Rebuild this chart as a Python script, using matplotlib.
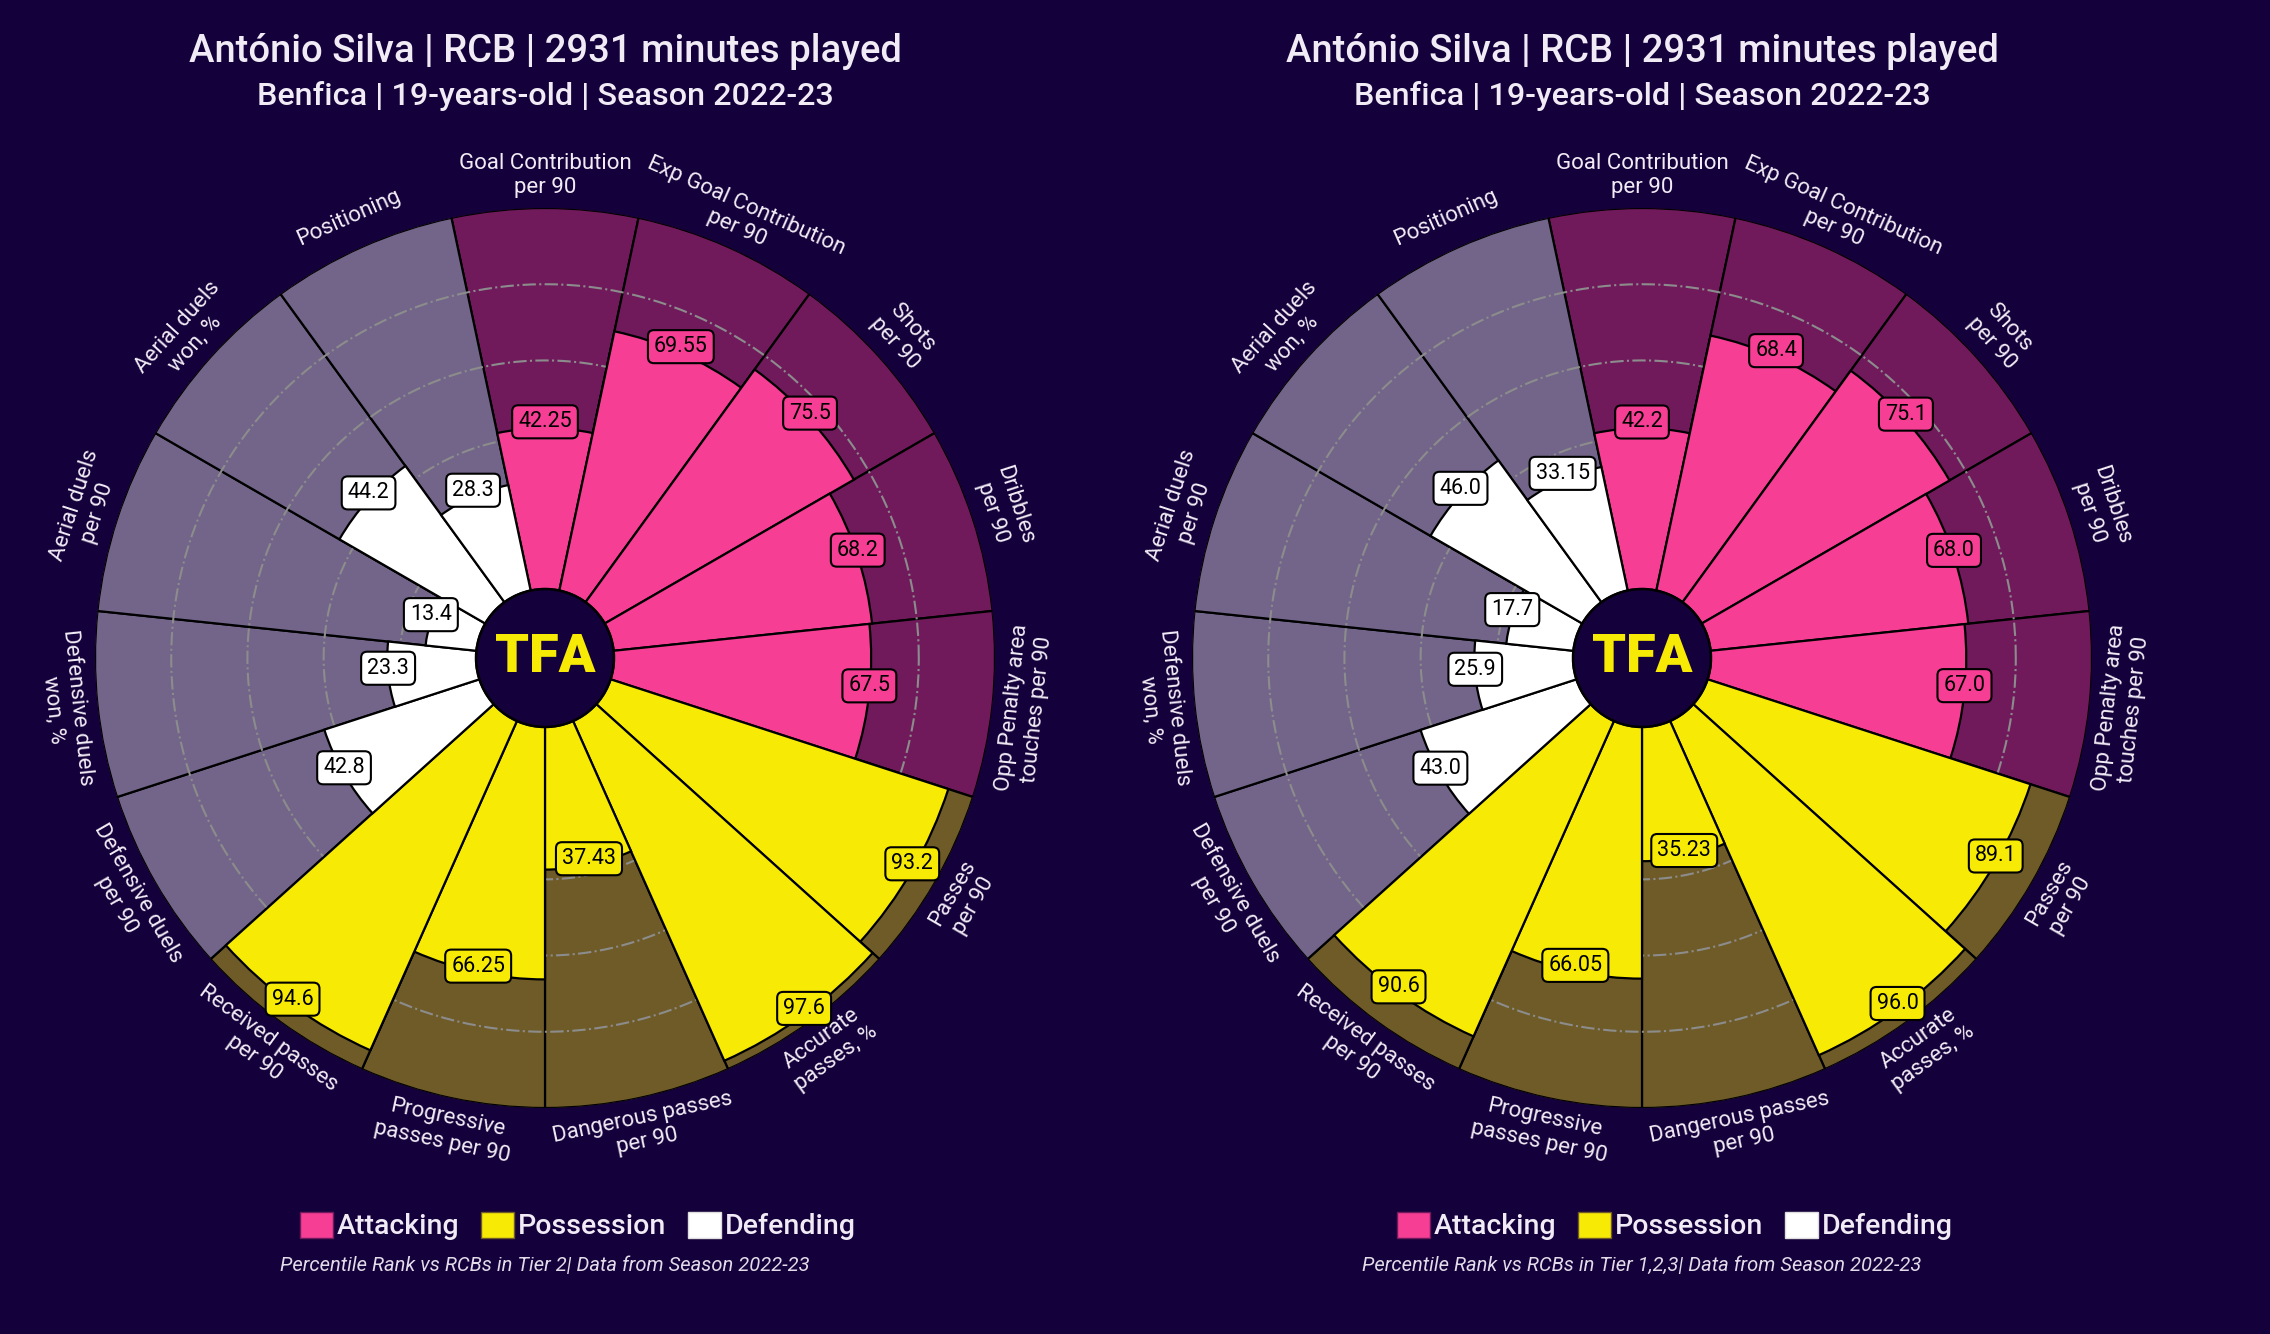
import numpy as np
import matplotlib
matplotlib.use("Agg")
import matplotlib.pyplot as plt
from matplotlib.patches import Patch, Circle

plt.rcParams['font.family'] = ['Roboto', 'DejaVu Sans']

# data
params = ["Goal Contribution\nper 90", "Exp Goal Contribution\nper 90", "Shots\nper 90",
          "Dribbles\nper 90", "Opp Penalty area\ntouches per 90", "Passes\nper 90",
          "Accurate\npasses, %", "Dangerous passes\nper 90", "Progressive\npasses per 90",
          "Received passes\nper 90", "Defensive duels\nper 90", "Defensive duels\nwon, %",
          "Aerial duels\nper 90", "Aerial duels\nwon, %", "Positioning"]
groups = ["att"] * 5 + ["pos"] * 5 + ["def"] * 5

values_tier2 = [42.25, 69.55, 75.5, 68.2, 67.5, 93.2, 97.6, 37.43, 66.25, 94.6,
                42.8, 23.3, 13.4, 44.2, 28.3]
values_tier123 = [42.2, 68.4, 75.1, 68.0, 67.0, 89.1, 96.0, 35.23, 66.05, 90.6,
                  43.0, 25.9, 17.7, 46.0, 33.15]

title = "António Silva | RCB | 2931 minutes played"
subtitle = "Benfica | 19-years-old | Season 2022-23"
footers = ["Percentile Rank vs RCBs in Tier 2| Data from Season 2022-23",
           "Percentile Rank vs RCBs in Tier 1,2,3| Data from Season 2022-23"]

# colours
BG = "#14003a"
slice_col = {"att": "#f53e94", "pos": "#f7eb06", "def": "#ffffff"}
back_col = {"att": "#701a5c", "pos": "#6e5b28", "def": "#726589"}
TXT = "#f0ebf5"

W, H = 2270, 1334
fig = plt.figure(figsize=(W / 100, H / 100), dpi=100, facecolor=BG)

HOLE = 18.1  # inner hole, in value units
R_PX = 450


def pizza(cx, values, footer):
    ax = fig.add_axes([(cx - R_PX) / W, (H - 658 - R_PX) / H, 2 * R_PX / W, 2 * R_PX / H],
                      projection="polar")
    ax.set_facecolor(BG)
    n = len(params)
    step = 2 * np.pi / n
    theta = np.radians(90) - step * np.arange(n)

    # background slices
    ax.bar(theta, 100, width=step, bottom=HOLE,
           color=[back_col[g] for g in groups], edgecolor="black", lw=1.6, zorder=1)

    # grid circles
    tt = np.linspace(0, 2 * np.pi, 400)
    for g in [20, 40, 60, 80]:
        ax.plot(tt, np.full_like(tt, HOLE + g), color="#8c8c8c", lw=1.5, ls="-.", zorder=2)

    # value slices
    ax.bar(theta, values, width=step, bottom=HOLE,
           color=[slice_col[g] for g in groups], edgecolor="black", lw=1.6, zorder=3)

    # value labels
    for t, v, g in zip(theta, values, groups):
        ax.annotate(str(v), xy=(t, HOLE + v), xytext=(0, 4.5), textcoords="offset points",
                    ha="center", va="center", fontsize=15.5, color="black", zorder=6,
                    bbox=dict(boxstyle="round,pad=0.28", fc=slice_col[g], ec="black", lw=1.5))

    # parameter labels
    for t, p in zip(theta, params):
        deg = np.degrees(t) % 360
        rot = deg - 90 if deg <= 180 else deg + 90
        ax.text(t, HOLE + 108.5, p, rotation=rot, rotation_mode="anchor",
                ha="center", va="center", fontsize=16, color=TXT, linespacing=1.2)

    # centre logo
    ax.add_patch(Circle((0.5, 0.5), 0.5 * HOLE / (100 + HOLE), transform=ax.transAxes,
                        fc=BG, ec="black", lw=1.8, zorder=5))
    ax.text(0.5, 0.5, "TFA", transform=ax.transAxes, ha="center", va="center",
            fontsize=39, fontweight="black", color="#f7eb06", zorder=6)

    ax.set_ylim(0, 100 + HOLE)
    ax.set_axis_off()

    # titles
    fig.text(cx / W, 1 - 52 / H, title, ha="center", va="center", fontsize=27.5,
             fontweight="medium", color=TXT)
    fig.text(cx / W, 1 - 96 / H, subtitle, ha="center", va="center", fontsize=23.3,
             fontweight="medium", color=TXT)

    # legend
    handles = [Patch(fc=slice_col[g], ec=back_col[g] if g != "def" else "#dddddd", label=l)
               for g, l in zip(["att", "pos", "def"], ["Attacking", "Possession", "Defending"])]
    leg = fig.legend(handles=handles, loc="center", bbox_to_anchor=((cx + 33) / W, 1 - 1226 / H),
                     ncol=3, frameon=False, fontsize=20.5, handlelength=1.15, handleheight=1.05,
                     handletextpad=0.15, columnspacing=0.75)
    for t in leg.get_texts():
        t.set_color(TXT)
        t.set_fontweight("medium")

    fig.text(cx / W, 1 - 1265 / H, footer, ha="center", va="center", fontsize=14.5,
             style="italic", color="#e2dcea")


pizza(545, values_tier2, footers[0])
pizza(1642, values_tier123, footers[1])

fig.savefig("out.png", dpi=100, facecolor=BG)
